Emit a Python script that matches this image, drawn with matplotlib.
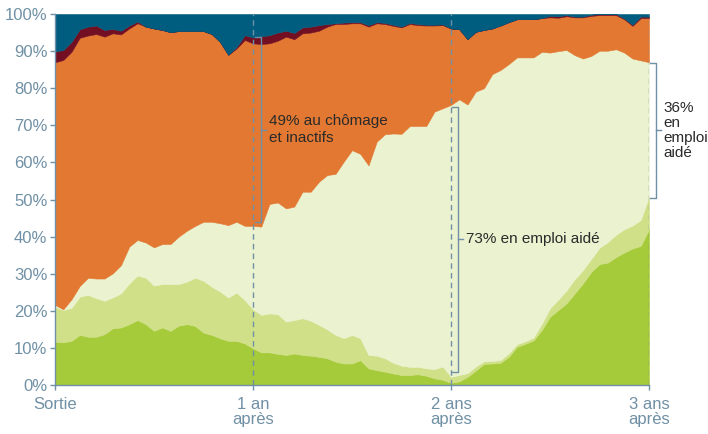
import numpy as np
import matplotlib.pyplot as plt

plt.rcParams['font.family'] = ['Liberation Sans Narrow', 'Liberation Sans', 'DejaVu Sans']

# mois depuis la sortie, pas d'un demi-mois
months = np.arange(0, 36.5, 0.5)

# haut cumulé de chaque couche (%)
top_emploi_durable = [
    11.7, 11.5, 11.9, 13.5, 13.0, 13.0, 13.7, 15.3, 15.5, 16.4, 17.5, 16.4, 14.6, 15.5, 14.6, 16.0, 16.4, 15.9, 14.1,
    13.5, 12.6, 11.9, 11.9, 11.2, 9.9, 8.8, 8.8, 8.4, 8.1, 8.5, 8.1, 7.9, 7.6, 7.2, 6.3, 5.8, 5.8,
    6.7, 4.5, 4.0, 3.6, 3.1, 2.7, 2.7, 2.9, 2.5, 1.8, 1.4, 0.6, 1.0, 2.2, 3.9,
    5.7, 5.8, 6.0, 7.6, 10.3, 11.1, 12.0, 14.8, 18.4, 20.2, 22.0, 24.7, 27.4, 30.5, 32.6, 33.0, 34.5, 35.7, 36.8, 37.5, 42.0]
top_emploi_court = [
    21.1, 20.2, 20.8, 23.8, 24.3, 23.4, 22.7, 23.6, 24.7, 27.4, 29.5, 28.9, 26.8, 27.2, 27.2, 27.2, 27.9, 28.9, 28.1,
    26.5, 25.2, 23.6, 24.9, 22.9, 20.4, 18.9, 19.3, 19.1, 17.1, 17.5, 18.0, 17.3, 16.2, 15.0, 13.5, 12.6, 13.5,
    12.6, 8.1, 7.9, 7.2, 6.0, 5.2, 4.9, 4.9, 4.5, 4.3, 5.0, 2.2, 2.7, 3.2, 5.0,
    6.4, 6.5, 6.7, 8.6, 11.0, 11.8, 12.8, 16.5, 20.7, 23.0, 25.5, 28.5, 31.0, 34.0, 37.0, 38.5, 40.5, 42.0, 43.0, 44.5, 50.8]
top_emploi_aide = [
    21.6, 20.4, 23.1, 26.7, 28.9, 28.7, 28.7, 30.1, 32.3, 37.3, 39.1, 38.4, 37.1, 38.0, 38.0, 40.0, 41.6, 42.9, 44.0,
    44.0, 43.6, 43.1, 44.0, 42.9, 42.9, 42.7, 48.8, 49.2, 47.6, 48.1, 52.1, 52.1, 54.8, 56.6, 56.9, 60.2, 63.3,
    62.3, 59.2, 65.6, 67.6, 67.8, 67.7, 69.8, 69.8, 69.8, 73.7, 74.6, 75.5, 77.0, 75.6, 79.1,
    80.0, 83.8, 84.9, 86.5, 88.3, 88.3, 88.3, 89.8, 89.6, 90.0, 90.3, 88.9, 88.0, 88.7, 90.1, 90.1, 90.5, 89.6, 88.0, 87.5, 87.0]
top_chomage_inactif = [
    87.0, 87.6, 89.8, 93.6, 94.2, 94.6, 93.9, 94.8, 94.5, 96.1, 97.5, 96.6, 96.1, 95.7, 95.1, 95.4, 95.4, 95.4, 95.4,
    94.6, 92.5, 89.0, 90.7, 93.0, 92.1, 91.9, 92.1, 92.8, 93.9, 93.2, 94.8, 95.0, 95.5, 96.6, 97.3, 97.3, 97.5,
    97.5, 96.6, 97.5, 97.3, 96.8, 96.4, 97.3, 97.0, 96.9, 96.9, 97.0, 96.1, 95.9, 93.2, 95.2,
    95.7, 96.1, 96.9, 97.8, 98.6, 98.6, 98.6, 98.9, 99.1, 99.0, 99.4, 99.1, 99.1, 99.5, 99.7, 99.7, 99.7, 98.6, 96.8, 98.9, 98.9]
top_formation = [
    89.9, 90.3, 92.5, 95.9, 96.6, 96.9, 95.7, 96.0, 95.5, 96.9, 98.0, 96.6, 96.1, 95.7, 95.1, 95.4, 95.4, 95.4, 95.4,
    94.6, 92.5, 89.0, 91.1, 94.3, 93.7, 94.0, 94.3, 95.0, 95.5, 94.9, 96.4, 96.6, 97.0, 97.3, 97.5, 97.7, 97.8,
    97.8, 97.0, 97.8, 97.6, 97.1, 96.6, 97.6, 97.3, 97.1, 97.1, 97.2, 96.1, 95.9, 93.2, 95.2,
    95.7, 96.1, 96.9, 97.8, 98.6, 98.6, 98.6, 98.9, 99.5, 99.4, 99.7, 99.3, 99.3, 99.8, 100, 100, 100, 98.8, 97.1, 99.3, 99.3]

colors = ['#a6cb3a', '#d0e088', '#eaf2cf', '#e27831', '#730f22', '#005d80']
axis_col = '#7090a5'
text_col = '#2a2a2a'

tops = np.vstack([np.zeros(len(months)), top_emploi_durable, top_emploi_court, top_emploi_aide,
                  top_chomage_inactif, top_formation, np.full(len(months), 100.0)])
shares = np.diff(tops, axis=0)

fig = plt.figure(figsize=(7.08, 4.34), dpi=100)
ax = fig.add_axes([55/708, 1-385/434, 594/708, 371/434])

polys = ax.stackplot(months, shares, colors=colors, linewidth=0.4)
for p, c in zip(polys, colors):
    p.set_edgecolor(c)

ax.set_xlim(0, 36)
ax.set_ylim(0, 100)
ax.set_yticks(range(0, 101, 10))
ax.set_yticklabels([f'{v}%' for v in range(0, 101, 10)])
ax.set_xticks([0, 12, 24, 36])
ax.set_xticklabels(['Sortie', '1 an\naprès', '2 ans\naprès', '3 ans\naprès'], linespacing=1.0)

for s in ['top', 'right']:
    ax.spines[s].set_visible(False)
for s in ['left', 'bottom']:
    ax.spines[s].set_color(axis_col)
    ax.spines[s].set_linewidth(1.0)
ax.tick_params(colors=axis_col, labelcolor=axis_col, labelsize=12, length=3.5, width=1)
ax.tick_params(axis='x', pad=5)
ax.tick_params(axis='y', pad=2)

ax.vlines([12, 24, 36], 0, 100, colors=axis_col, linestyles=(0, (4, 3)), linewidth=1, zorder=3)


def brace(x, y0, y1, hook=0.35, tip=0.3):
    ym = (y0 + y1) / 2
    ax.plot([x - hook, x, x, x - hook], [y1, y1, y0, y0], color=axis_col, lw=1, clip_on=False, zorder=4)
    ax.plot([x, x + tip], [ym, ym], color=axis_col, lw=1, clip_on=False, zorder=4)
    return ym


i1, i2, i3 = 24, 48, 72
ym = brace(12.5, top_emploi_aide[i1] + 1.0, top_formation[i1] + 0.1)
ax.text(12.95, ym, '49% au chômage\net inactifs', fontsize=11, color=text_col,
        ha='left', va='center', linespacing=1.2)

ym = brace(24.4, top_emploi_court[i2] + 1.4, top_emploi_aide[i2] - 0.5)
ax.text(24.9, ym, '73% en emploi aidé', fontsize=11, color=text_col, ha='left', va='center')

ym = brace(36.4, top_emploi_court[i3] - 0.3, top_emploi_aide[i3] - 0.2)
ax.text(36.9, ym, '36%\nen\nemploi\naidé', fontsize=11, color=text_col,
        ha='left', va='center', linespacing=1.1)

fig.savefig('out.png', dpi=100)
